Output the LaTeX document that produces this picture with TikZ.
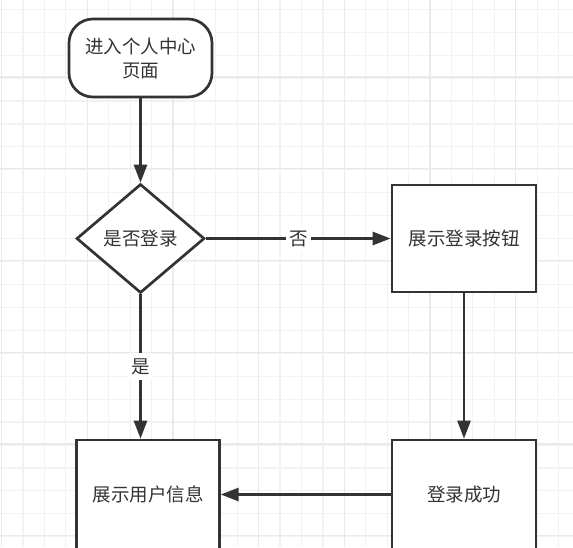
\documentclass[tikz,border=0pt]{standalone}
\usepackage{fontspec}
\setmainfont{Noto Sans CJK SC}
\usetikzlibrary{arrows.meta,shapes.geometric}
\definecolor{ink}{HTML}{333333}
\definecolor{gridminor}{HTML}{F2F2F2}
\definecolor{gridmajor}{HTML}{EAEAEA}
\tikzset{
  txt/.style={font=\fontsize{18.5pt}{24pt}\selectfont, text=ink, align=center},
  shapebox/.style={txt, draw=ink, line width=2.7pt, fill=white, inner sep=0pt},
  termbox/.style={shapebox, rectangle, rounded corners=24pt, minimum width=143pt, minimum height=78pt},
  procbox/.style={shapebox, rectangle, minimum width=144pt, minimum height=107pt},
  decbox/.style={shapebox, diamond, minimum width=128pt, minimum height=109pt},
  arr/.style={draw=ink, line width=2.7pt, -{Triangle[length=18pt,width=13pt]}},
  lbl/.style={txt, fill=white, inner xsep=3pt, inner ysep=5pt},
}
\begin{document}
\begin{tikzpicture}[x=1pt,y=-1pt]
\useasboundingbox (0,0) rectangle (573,547);
\clip (0,0) rectangle (573,547);
\fill[white] (0,0) rectangle (573,547);
% grid
\foreach \k in {0,...,26} {
  \pgfmathsetmacro{\gx}{1.6+21.42*\k}
  \draw[gridminor, line width=1.2pt] (\gx,0) -- (\gx,547);
}
\foreach \k in {0,...,23} {
  \pgfmathsetmacro{\gy}{9.3+22.93*\k}
  \draw[gridminor, line width=1.2pt] (0,\gy) -- (573,\gy);
}
\foreach \k in {0,...,6} {
  \pgfmathsetmacro{\gx}{1.6+85.68*\k}
  \draw[gridmajor, line width=1.3pt] (\gx,0) -- (\gx,547);
}
\foreach \k in {0,...,5} {
  \pgfmathsetmacro{\gy}{77.1+91.72*\k}
  \draw[gridmajor, line width=1.3pt] (0,\gy) -- (573,\gy);
}
% nodes
\node[termbox] (start) at (140.5,58) {进入个人中心\\页面};
\node[decbox] (dec) at (140.5,238.5) {是否登录};
\node[procbox] (btn) at (464,238.5) {展示登录按钮};
\node[procbox, minimum height=109pt] (ok) at (464,494.5) {登录成功};
\node[procbox, minimum width=142.6pt, minimum height=109pt] (info) at (148,494.5) {展示用户信息};
% connectors
\draw[arr] (start.south) -- (dec.north);
\draw[arr] (dec.east) -- node[lbl] {否} (btn.west);
\draw[arr] (btn.south) -- (ok.north);
\draw[arr] (ok.west) -- (info.east);
\draw[arr] (dec.south) -- node[lbl] {是} (dec.south |- info.north);
\end{tikzpicture}
\end{document}
